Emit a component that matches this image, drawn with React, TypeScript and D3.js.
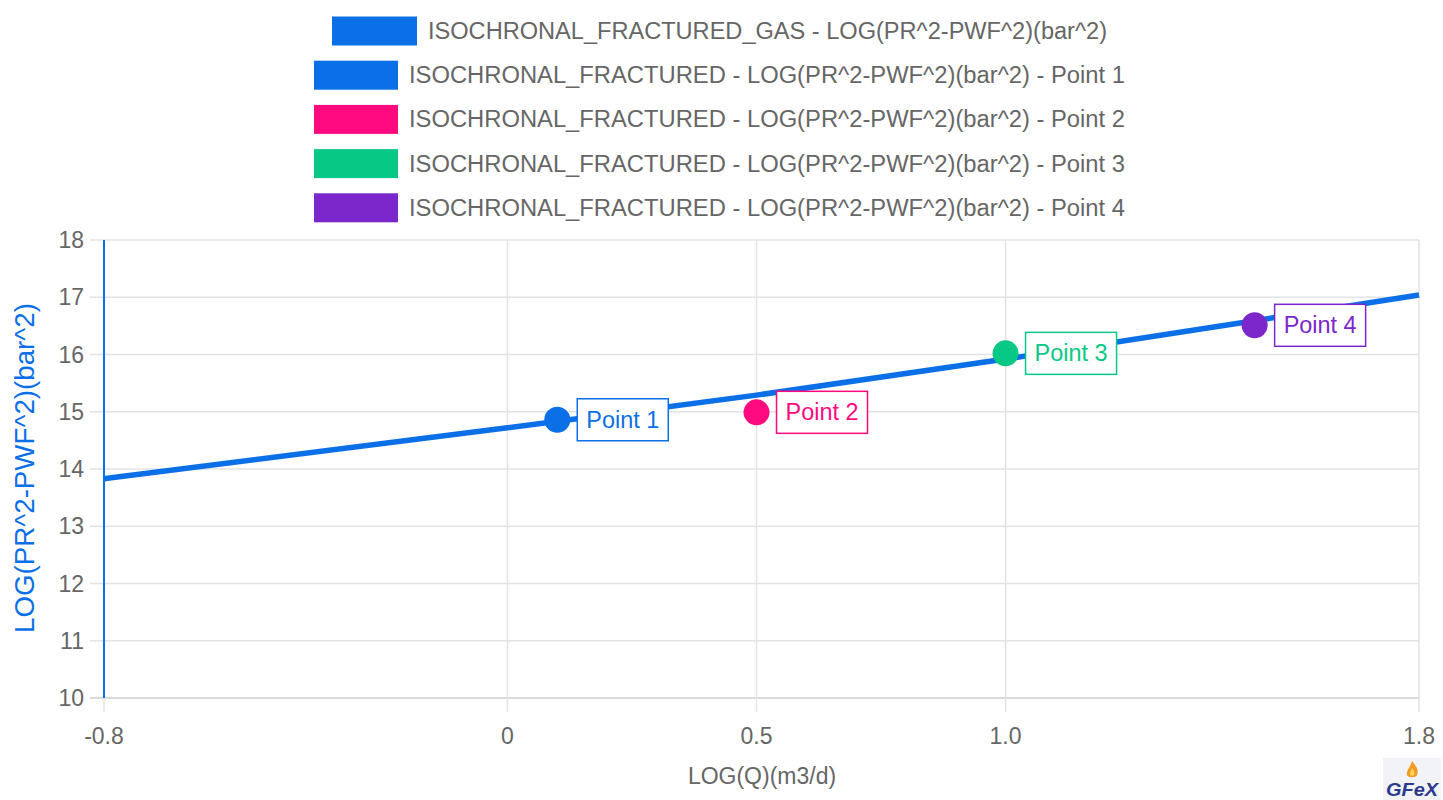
import { useEffect, useRef } from 'react';
import * as d3 from 'd3';

// ── Data ──────────────────────────────────────────────────────────────────────
const X_DOMAIN = [-0.81, 1.83];
const Y_DOMAIN = [10, 18];
const X_TICKS = [-0.81, 0, 0.5, 1.0, 1.83];
const X_TICK_LABELS = ['-0.8', '0', '0.5', '1.0', '1.8'];
const Y_TICKS = [10, 11, 12, 13, 14, 15, 16, 17, 18];

// Fitted curve
const LINE_X = [-0.81, 0, 0.5, 1.0, 1.5, 1.83];
const LINE_Y = [13.83, 14.72, 15.29, 15.92, 16.59, 17.04];

const POINT_NAMES = ['Point 1', 'Point 2', 'Point 3', 'Point 4'];
const POINT_X = [0.1, 0.5, 1.0, 1.5];
const POINT_Y = [14.86, 14.99, 16.02, 16.51];

const LEGEND_LABELS = [
  'ISOCHRONAL_FRACTURED_GAS - LOG(PR^2-PWF^2)(bar^2)',
  'ISOCHRONAL_FRACTURED - LOG(PR^2-PWF^2)(bar^2) - Point 1',
  'ISOCHRONAL_FRACTURED - LOG(PR^2-PWF^2)(bar^2) - Point 2',
  'ISOCHRONAL_FRACTURED - LOG(PR^2-PWF^2)(bar^2) - Point 3',
  'ISOCHRONAL_FRACTURED - LOG(PR^2-PWF^2)(bar^2) - Point 4',
];

// ── Colors ────────────────────────────────────────────────────────────────────
const BLUE   = '#0b6fe8';
const PINK   = '#fe0a7e';
const GREEN  = '#07c985';
const PURPLE = '#7b27cb';
const TEXT   = '#666';
const GRID   = '#e3e3e3';
const POINT_COLORS = [BLUE, PINK, GREEN, PURPLE];
const LEGEND_COLORS = [BLUE, BLUE, PINK, GREEN, PURPLE];

const FONT = '"Liberation Sans", Arial, Helvetica, sans-serif';

// ── Layout ────────────────────────────────────────────────────────────────────
const W = 1443;
const H = 800;
const PL = 104, PR = 1419, PT = 240, PB = 698;

export default function App() {
  const ref = useRef<SVGSVGElement>(null);

  useEffect(() => {
    const svg = d3.select(ref.current);
    svg.selectAll('*').remove();

    const x = d3.scaleLinear().domain(X_DOMAIN).range([PL, PR]);
    const y = d3.scaleLinear().domain(Y_DOMAIN).range([PB, PT]);

    // Horizontal gridlines + y tick labels
    const gy = svg.append('g');
    Y_TICKS.forEach(v => {
      gy.append('line')
        .attr('x1', PL - 14).attr('x2', PR)
        .attr('y1', y(v)).attr('y2', y(v))
        .attr('stroke', v === 10 ? '#cfcfcf' : GRID).attr('stroke-width', 1.5);
      gy.append('text')
        .attr('x', PL - 20).attr('y', y(v))
        .attr('text-anchor', 'end').attr('dominant-baseline', 'central')
        .attr('font-size', 23).attr('fill', TEXT).attr('font-family', FONT)
        .text(String(v));
    });

    // Vertical gridlines + x tick labels
    const gx = svg.append('g');
    X_TICKS.forEach((v, i) => {
      gx.append('line')
        .attr('x1', x(v)).attr('x2', x(v))
        .attr('y1', PT).attr('y2', PB + 14)
        .attr('stroke', GRID).attr('stroke-width', 1.5);
      gx.append('text')
        .attr('x', x(v)).attr('y', PB + 46)
        .attr('text-anchor', 'middle')
        .attr('font-size', 23).attr('fill', TEXT).attr('font-family', FONT)
        .text(X_TICK_LABELS[i]);
    });

    // Y axis line
    svg.append('line')
      .attr('x1', PL).attr('x2', PL).attr('y1', PT).attr('y2', PB)
      .attr('stroke', BLUE).attr('stroke-width', 2);

    // Axis titles
    svg.append('text')
      .attr('x', 762).attr('y', 784)
      .attr('text-anchor', 'middle')
      .attr('font-size', 23).attr('fill', TEXT).attr('font-family', FONT)
      .text('LOG(Q)(m3/d)');
    svg.append('text')
      .attr('transform', `translate(34, 468) rotate(-90)`)
      .attr('text-anchor', 'middle')
      .attr('font-size', 27).attr('fill', BLUE).attr('font-family', FONT)
      .attr('textLength', 330).attr('lengthAdjust', 'spacingAndGlyphs')
      .text('LOG(PR^2-PWF^2)(bar^2)');

    // Fitted curve
    const lineData = LINE_X.map((v, i) => [v, LINE_Y[i]] as [number, number]);
    svg.append('path')
      .datum(lineData)
      .attr('d', d3.line<[number, number]>()
        .x(d => x(d[0])).y(d => y(d[1]))
        .curve(d3.curveMonotoneX))
      .attr('fill', 'none').attr('stroke', BLUE).attr('stroke-width', 5.5);

    // Points + labels
    POINT_NAMES.forEach((name, i) => {
      const cx = x(POINT_X[i]);
      const cy = y(POINT_Y[i]);
      const c = POINT_COLORS[i];
      svg.append('circle')
        .attr('cx', cx).attr('cy', cy).attr('r', 13).attr('fill', c);
      const g = svg.append('g').attr('transform', `translate(${cx + 20}, ${cy})`);
      const rect = g.append('rect')
        .attr('y', -21).attr('height', 42)
        .attr('fill', 'white').attr('stroke', c).attr('stroke-width', 1.5);
      const t = g.append('text')
        .attr('x', 9).attr('y', 0).attr('dominant-baseline', 'central')
        .attr('font-size', 23).attr('fill', c).attr('font-family', FONT)
        .attr('textLength', 73).attr('lengthAdjust', 'spacingAndGlyphs')
        .text(name);
      rect.attr('width', 91);
      void t;
    });

    // Legend (each row centred)
    LEGEND_LABELS.forEach((label, i) => {
      const cy = 31 + i * 44.2;
      const tw = i === 0 ? 679 : 716;
      const sw = i === 0 ? 85 : 84;
      const total = sw + 11 + tw;
      const left = 719.5 - total / 2;
      svg.append('rect')
        .attr('x', left).attr('y', cy - 14.5)
        .attr('width', sw).attr('height', 29)
        .attr('fill', LEGEND_COLORS[i]);
      svg.append('text')
        .attr('x', left + sw + 11).attr('y', cy)
        .attr('dominant-baseline', 'central')
        .attr('font-size', 23).attr('fill', TEXT).attr('font-family', FONT)
        .attr('textLength', tw).attr('lengthAdjust', 'spacingAndGlyphs')
        .text(label);
    });

    // Logo
    const logo = svg.append('g').attr('transform', 'translate(1383, 758)');
    logo.append('rect').attr('width', 58).attr('height', 42).attr('fill', '#f2f3f7');
    logo.append('path')
      .attr('d', 'M29,3 C34,9 36,13 34,17 C33,20 25,20 24,17 C23,13 27,10 29,3 Z')
      .attr('fill', '#f59a23');
    logo.append('path')
      .attr('d', 'M29,10 C31,13 32,15 31,17 C30,18 28,18 27,17 C27,15 28,13 29,10 Z')
      .attr('fill', '#ffd85a');
    logo.append('text')
      .attr('x', 29).attr('y', 38).attr('text-anchor', 'middle')
      .attr('font-size', 19).attr('font-weight', 700).attr('font-style', 'italic')
      .attr('fill', '#2b3a8c').attr('font-family', FONT)
      .attr('textLength', 52).attr('lengthAdjust', 'spacingAndGlyphs')
      .text('GFeX');
  }, []);

  return (
    <svg
      ref={ref}
      width={W}
      height={H}
      viewBox={`0 0 ${W} ${H}`}
      style={{ position: 'absolute', left: 0, top: 0, background: 'white' }}
    />
  );
}
